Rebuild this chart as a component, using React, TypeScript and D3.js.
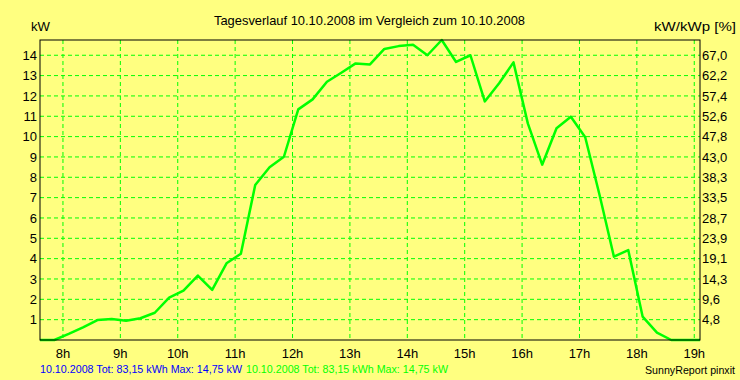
import React from "react";
import * as d3 from "d3";

const times = [
  "7:36", "7:51", "8:06", "8:21", "8:36", "8:51", "9:06", "9:21", "9:36", "9:51",
  "10:06", "10:21", "10:36", "10:51", "11:06", "11:21", "11:36", "11:51", "12:06", "12:21",
  "12:36", "12:51", "13:06", "13:21", "13:36", "13:51", "14:06", "14:21", "14:36", "14:51",
  "15:06", "15:21", "15:36", "15:51", "16:06", "16:21", "16:36", "16:51", "17:06", "17:21",
  "17:36", "17:51", "18:06", "18:21", "18:36", "18:51", "19:06",
];
const powerKW = [
  0, 0, 0.3, 0.62, 0.98, 1.03, 0.95, 1.07, 1.34, 2.08,
  2.43, 3.17, 2.46, 3.77, 4.24, 7.62, 8.49, 9.01, 11.34, 11.83,
  12.7, 13.14, 13.6, 13.55, 14.31, 14.45, 14.52, 14.0, 14.75, 13.67,
  14.0, 11.73, 12.62, 13.65, 10.65, 8.62, 10.41, 10.98, 9.97, 7.13,
  4.1, 4.42, 1.15, 0.36, 0, 0, 0,
];
const hourTicks = [8, 9, 10, 11, 12, 13, 14, 15, 16, 17, 18, 19];
const leftTicks = [1, 2, 3, 4, 5, 6, 7, 8, 9, 10, 11, 12, 13, 14];
const rightLabels = ["4,8", "9,6", "14,3", "19,1", "23,9", "28,7", "33,5", "38,3", "43,0", "47,8", "52,6", "57,4", "62,2", "67,0"];
const title = "Tagesverlauf 10.10.2008 im Vergleich zum 10.10.2008";
const footerBlue = "10.10.2008 Tot: 83,15 kWh Max: 14,75 kW";
const footerGreen = "10.10.2008 Tot: 83,15 kWh Max: 14,75 kW";
const credit = "SunnyReport pinxit";

const toHours = (t: string) => {
  const [h, m] = t.split(":").map(Number);
  return h + m / 60;
};

export default function App() {
  const W = 740, H = 380;
  const L = 40, R = 700, T = 40, B = 340;
  const x = d3.scaleLinear().domain([toHours(times[0]), toHours(times[times.length - 1])]).range([L, R]);
  const y = d3.scaleLinear().domain([0, 14.75]).range([B, T]);
  const data = times.map((t, i) => ({ h: toHours(t), v: powerKW[i] }));
  const line = d3.line<{ h: number; v: number }>().x(d => x(d.h)).y(d => y(d.v));
  const font = "'Liberation Sans', Arial, sans-serif";
  const green = "#00ff00";
  return (
    <svg width={W} height={H} style={{ position: "absolute", left: 0, top: 0 }} fontFamily={font} fontSize={13}>
      <rect x={0} y={0} width={W} height={H} fill="#ffff80" />
      <text x={214} y={25} textLength={311} lengthAdjust="spacingAndGlyphs" fill="#000">{title}</text>
      <text x={31} y={31} textLength={19} lengthAdjust="spacingAndGlyphs" fill="#000">kW</text>
      <text x={654} y={31} fontSize={12.5} textLength={82} lengthAdjust="spacingAndGlyphs" fill="#000">kW/kWp [%]</text>
      {hourTicks.map(h => (
        <line key={"vx" + h} x1={x(h)} x2={x(h)} y1={T} y2={B} stroke={green} strokeDasharray="4,3" strokeWidth={1} />
      ))}
      {leftTicks.map(v => (
        <line key={"hy" + v} x1={L} x2={R} y1={y(v)} y2={y(v)} stroke={green} strokeDasharray="4,3" strokeWidth={1} />
      ))}
      <path d={line(data) || ""} fill="none" stroke={green} strokeWidth={2.5} strokeLinejoin="round" />
      <rect x={L} y={T} width={R - L} height={B - T} fill="none" stroke="#000" strokeWidth={1} />
      {leftTicks.map(v => (
        <text key={"ly" + v} x={37} y={y(v) + 4.7} textAnchor="end" fill="#000">{v}</text>
      ))}
      {leftTicks.map((v, i) => (
        <text key={"ry" + v} x={702} y={y(v) + 4.7} fill="#000">{rightLabels[i]}</text>
      ))}
      {hourTicks.map(h => (
        <text key={"hx" + h} x={x(h)} y={357.5} textAnchor="middle" fill="#000">{h + "h"}</text>
      ))}
      <text x={40} y={373} fontSize={11} textLength={202} lengthAdjust="spacingAndGlyphs" fill="#0000ff">{footerBlue}</text>
      <text x={246} y={373} fontSize={11} textLength={202} lengthAdjust="spacingAndGlyphs" fill={green}>{footerGreen}</text>
      <text x={645} y={374} fontSize={11} textLength={90} lengthAdjust="spacingAndGlyphs" fill="#000">{credit}</text>
    </svg>
  );
}
